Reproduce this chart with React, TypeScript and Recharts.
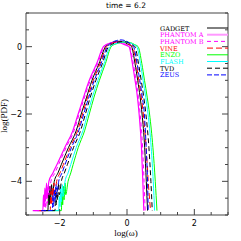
import React from 'react';
import { LineChart, Line, XAxis, YAxis } from 'recharts';

// log(omega) / log(PDF) pairs, one list per code
const gadget: [number, number][] = [[-2.66,-4.87],[-2.35,-4.87],[-2.33,-4.35],[-2.31,-4.7],[-2.29,-4.15],[-2.27,-4.55],[-2.24,-4.1],[-2.22,-4.4],[-2.16,-4.0],[-2.05,-3.75],[-1.95,-3.5],[-1.74,-3.0],[-1.51,-2.5],[-1.36,-2.0],[-1.2,-1.5],[-1.04,-1.0],[-0.83,-0.5],[-0.64,0.0],[-0.52,0.088],[-0.38,0.144],[-0.24,0.16],[-0.09,0.136],[0.02,0.075],[0.136,0.0],[0.238,-0.5],[0.318,-1.0],[0.39,-1.5],[0.447,-2.0],[0.525,-3.0],[0.573,-4.0],[0.61,-4.87]];
const phantomA: [number, number][] = [[-2.8,-4.87],[-2.5,-4.87],[-2.48,-4.4],[-2.46,-4.75],[-2.44,-4.2],[-2.42,-4.6],[-2.39,-4.05],[-2.37,-4.45],[-2.32,-4.0],[-2.2,-3.75],[-2.08,-3.5],[-1.85,-3.0],[-1.61,-2.5],[-1.45,-2.0],[-1.29,-1.5],[-1.12,-1.0],[-0.9,-0.5],[-0.7,0.0],[-0.6,0.07],[-0.48,0.117],[-0.36,0.13],[-0.19,0.11],[-0.07,0.06],[0.06,0.0],[0.16,-0.5],[0.24,-1.0],[0.31,-1.5],[0.36,-2.0],[0.43,-3.0],[0.47,-4.0],[0.5,-4.87]];
const phantomB: [number, number][] = [[-2.75,-4.87],[-2.45,-4.87],[-2.43,-4.5],[-2.41,-4.8],[-2.39,-4.25],[-2.37,-4.65],[-2.34,-4.1],[-2.32,-4.4],[-2.26,-4.0],[-2.14,-3.75],[-2.03,-3.5],[-1.81,-3.0],[-1.575,-2.5],[-1.42,-2.0],[-1.26,-1.5],[-1.09,-1.0],[-0.87,-0.5],[-0.68,0.0],[-0.57,0.077],[-0.45,0.126],[-0.32,0.14],[-0.16,0.119],[-0.04,0.065],[0.087,0.0],[0.188,-0.5],[0.268,-1.0],[0.339,-1.5],[0.391,-2.0],[0.464,-3.0],[0.507,-4.0],[0.54,-4.87]];
const vine: [number, number][] = [[-2.6,-4.87],[-2.28,-4.87],[-2.26,-4.3],[-2.24,-4.7],[-2.22,-4.2],[-2.2,-4.6],[-2.17,-4.05],[-2.15,-4.45],[-2.09,-4.0],[-1.99,-3.75],[-1.89,-3.5],[-1.69,-3.0],[-1.47,-2.5],[-1.32,-2.0],[-1.17,-1.5],[-1.0,-1.0],[-0.8,-0.5],[-0.61,0.0],[-0.49,0.083],[-0.35,0.135],[-0.2,0.15],[-0.05,0.128],[0.06,0.07],[0.168,0.0],[0.272,-0.5],[0.352,-1.0],[0.426,-1.5],[0.484,-2.0],[0.57,-3.0],[0.63,-4.0],[0.7,-4.87]];
const enzo: [number, number][] = [[-2.3,-4.87],[-1.95,-4.87],[-1.93,-4.35],[-1.91,-4.7],[-1.89,-4.15],[-1.87,-4.55],[-1.84,-4.05],[-1.82,-4.4],[-1.75,-4.0],[-1.67,-3.75],[-1.6,-3.5],[-1.45,-3.0],[-1.26,-2.5],[-1.12,-2.0],[-0.98,-1.5],[-0.82,-1.0],[-0.64,-0.5],[-0.47,0.0],[-0.34,0.077],[-0.18,0.126],[-0.03,0.14],[0.11,0.119],[0.22,0.065],[0.33,0.0],[0.44,-0.5],[0.52,-1.0],[0.6,-1.5],[0.67,-2.0],[0.77,-3.0],[0.84,-4.0],[0.89,-4.87]];
const flash: [number, number][] = [[-2.38,-4.87],[-2.03,-4.87],[-2.01,-4.45],[-1.99,-4.75],[-1.97,-4.2],[-1.95,-4.6],[-1.92,-4.1],[-1.9,-4.45],[-1.84,-4.0],[-1.75,-3.75],[-1.67,-3.5],[-1.51,-3.0],[-1.31,-2.5],[-1.17,-2.0],[-1.03,-1.5],[-0.865,-1.0],[-0.68,-0.5],[-0.505,0.0],[-0.37,0.077],[-0.22,0.126],[-0.06,0.14],[0.08,0.119],[0.185,0.065],[0.29,0.0],[0.398,-0.5],[0.478,-1.0],[0.556,-1.5],[0.624,-2.0],[0.719,-3.0],[0.78,-4.0],[0.82,-4.87]];
const tvd: [number, number][] = [[-2.47,-4.87],[-2.14,-4.87],[-2.12,-4.35],[-2.1,-4.7],[-2.08,-4.2],[-2.06,-4.55],[-2.03,-4.05],[-2.01,-4.4],[-1.95,-4.0],[-1.86,-3.75],[-1.77,-3.5],[-1.59,-3.0],[-1.38,-2.5],[-1.235,-2.0],[-1.09,-1.5],[-0.925,-1.0],[-0.73,-0.5],[-0.55,0.0],[-0.42,0.083],[-0.26,0.135],[-0.1,0.15],[0.03,0.128],[0.13,0.07],[0.235,0.0],[0.342,-0.5],[0.422,-1.0],[0.498,-1.5],[0.561,-2.0],[0.651,-3.0],[0.71,-4.0],[0.75,-4.87]];
const zeus: [number, number][] = [[-2.55,-4.87],[-2.22,-4.87],[-2.2,-4.4],[-2.18,-4.75],[-2.16,-4.25],[-2.14,-4.6],[-2.11,-4.1],[-2.09,-4.4],[-2.03,-4.0],[-1.93,-3.75],[-1.84,-3.5],[-1.65,-3.0],[-1.435,-2.5],[-1.285,-2.0],[-1.135,-1.5],[-0.97,-1.0],[-0.77,-0.5],[-0.585,0.0],[-0.46,0.11],[-0.32,0.18],[-0.18,0.2],[-0.03,0.17],[0.08,0.09],[0.195,0.0],[0.3,-0.5],[0.38,-1.0],[0.455,-1.5],[0.515,-2.0],[0.57,-3.0],[0.61,-4.0],[0.63,-4.87]];

const xTicks = [-3, -2.5, -2, -1.5, -1, -0.5, 0, 0.5, 1, 1.5, 2, 2.5, 3];
const yTicks = [-5, -4.5, -4, -3.5, -3, -2.5, -2, -1.5, -1, -0.5, 0, 0.5, 1];
const xLabelled = [-2, 0, 2];
const yLabelled = [-4, -2, 0];

const series = [
  { name: 'GADGET', data: gadget, color: '#000000', dash: undefined, width: 1 },
  { name: 'PHANTOM A', data: phantomA, color: '#ff00ff', dash: undefined, width: 1.2 },
  { name: 'PHANTOM B', data: phantomB, color: '#ff00ff', dash: '4 3', width: 1 },
  { name: 'VINE', data: vine, color: '#ff0000', dash: '6 3', width: 1 },
  { name: 'ENZO', data: enzo, color: '#00ff00', dash: undefined, width: 1 },
  { name: 'FLASH', data: flash, color: '#00ffff', dash: undefined, width: 1 },
  { name: 'TVD', data: tvd, color: '#000000', dash: '5 3', width: 1 },
  { name: 'ZEUS', data: zeus, color: '#0000ff', dash: '5 2', width: 1 },
];

const tickFont = { fontFamily: 'DejaVu Sans', fontSize: 8, fill: '#000' };
const minus = (v: number) => (v < 0 ? '\u2212' + Math.abs(v) : String(v));
const frame = '#444';

const BottomTick = (p: any) => {
  const v = p.payload.value;
  const major = xLabelled.includes(v);
  return (
    <g>
      <line x1={p.x} x2={p.x} y1={p.y} y2={p.y - (major ? 6 : 3)} stroke={frame} />
      {major && (
        <text x={p.x} y={p.y + 11} textAnchor="middle" {...tickFont}>{minus(v)}</text>
      )}
    </g>
  );
};
const TopTick = (p: any) => {
  const major = xLabelled.includes(p.payload.value);
  return <line x1={p.x} x2={p.x} y1={p.y} y2={p.y + (major ? 6 : 3)} stroke={frame} />;
};
const LeftTick = (p: any) => {
  const v = p.payload.value;
  const major = yLabelled.includes(v);
  return (
    <g>
      <line x1={p.x} x2={p.x + (major ? 6 : 3)} y1={p.y} y2={p.y} stroke={frame} />
      {major && (
        <text x={p.x - 4} y={p.y + 3} textAnchor="end" {...tickFont}>{minus(v)}</text>
      )}
    </g>
  );
};
const RightTick = (p: any) => {
  const major = yLabelled.includes(p.payload.value);
  return <line x1={p.x} x2={p.x - (major ? 6 : 3)} y1={p.y} y2={p.y} stroke={frame} />;
};

const App: React.FC = () => {
  return (
    <div style={{ position: 'absolute', left: 0, top: 0, width: 241, height: 241, background: '#fff' }}>
      <LineChart width={241} height={241} margin={{ top: 12, right: 12, bottom: 25, left: 25 }}>
        <XAxis dataKey="x" type="number" domain={[-3, 3]} ticks={xTicks} interval={0} height={1}
          tickSize={0} tickMargin={0} tickLine={false} stroke={frame} tick={BottomTick} allowDataOverflow />
        <XAxis xAxisId="top" orientation="top" type="number" domain={[-3, 3]} ticks={xTicks} interval={0} height={1}
          tickSize={0} tickMargin={0} tickLine={false} stroke={frame} tick={TopTick} allowDataOverflow />
        <YAxis type="number" domain={[-5, 1]} ticks={yTicks} interval={0} width={1}
          tickSize={0} tickMargin={0} tickLine={false} stroke={frame} tick={LeftTick} allowDataOverflow />
        <YAxis yAxisId="right" orientation="right" type="number" domain={[-5, 1]} ticks={yTicks} interval={0} width={1}
          tickSize={0} tickMargin={0} tickLine={false} stroke={frame} tick={RightTick} allowDataOverflow />
        {series.map((s) => (
          <Line key={s.name} data={s.data.map(([x, y]) => ({ x, y }))} dataKey="y" type="monotone"
            stroke={s.color} strokeWidth={s.width} strokeDasharray={s.dash} dot={false} activeDot={false}
            isAnimationActive={false} />
        ))}
      </LineChart>
      <svg width={241} height={241} style={{ position: 'absolute', left: 0, top: 0, pointerEvents: 'none' }}>
        <text x={126} y={8} textAnchor="middle" fontFamily="DejaVu Sans" fontSize={7.5}>time = 6.2</text>
        <text x={126} y={236} textAnchor="middle" fontFamily="Liberation Serif" fontSize={9}>log(ω)</text>
        <text x={7} y={116} textAnchor="middle" fontFamily="Liberation Serif" fontSize={9} transform="rotate(-90 7 116)">log(PDF)</text>
        {series.map((s, i) => (
          <g key={s.name}>
            <text x={160} y={30.5 + i * 6.7} fontFamily="DejaVu Serif" fontSize={6.5} fill={s.color}>{s.name}</text>
            <line x1={207} x2={228} y1={28 + i * 6.7} y2={28 + i * 6.7}
              stroke={s.name === 'PHANTOM A' ? '#ff99ff' : s.color}
              strokeWidth={s.name === 'PHANTOM A' ? 2 : 1} strokeDasharray={s.dash} />
          </g>
        ))}
      </svg>
    </div>
  );
};

export default App;
